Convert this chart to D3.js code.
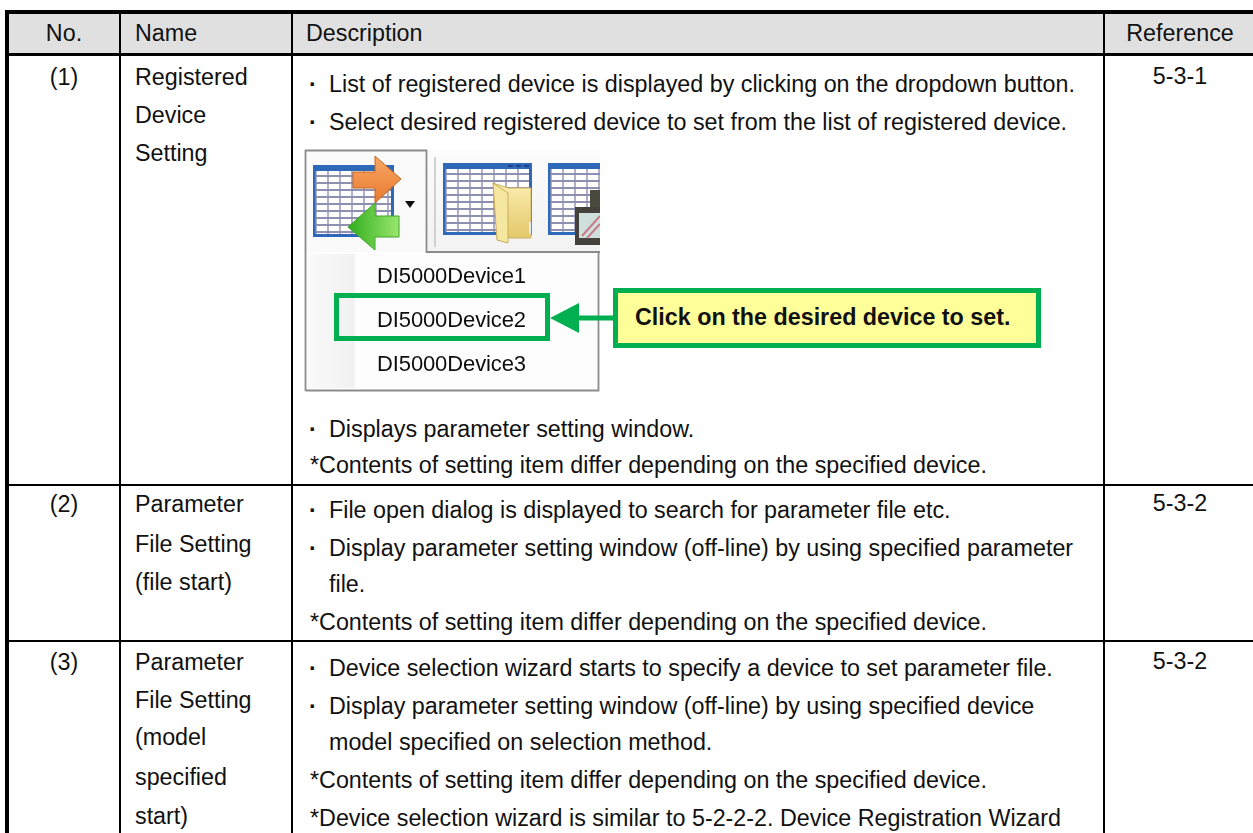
<!DOCTYPE html>
<html>
<head>
<meta charset="utf-8">
<script src="https://cdn.jsdelivr.net/npm/d3@7"></script>
<style>
    html, body { margin: 0; padding: 0; background: #fff; overflow: hidden; }
    svg { display: block; }
    text { font-family: "Liberation Sans", Arial, sans-serif; fill: #111; }
</style>
</head>
<body>
<script>
// table content
var columns = ["No.", "Name", "Description", "Reference"];
var numbers = ["(1)", "(2)", "(3)"];
var references = ["5-3-1", "5-3-2", "5-3-2"];
var names = [
    ["Registered", "Device", "Setting"],
    ["Parameter", "File Setting", "(file start)"],
    ["Parameter", "File Setting", "(model", "specified", "start)"]
];
var descTop = [
    "List of registered device is displayed by clicking on the dropdown button.",
    "Select desired registered device to set from the list of registered device."
];
var descBottom = [
    { bullet: true, text: "Displays parameter setting window." },
    { bullet: false, text: "*Contents of setting item differ depending on the specified device." }
];
var descFile = [
    { bullet: true, text: "File open dialog is displayed to search for parameter file etc." },
    { bullet: true, text: "Display parameter setting window (off-line) by using specified parameter" },
    { bullet: false, indent: true, text: "file." },
    { bullet: false, text: "*Contents of setting item differ depending on the specified device." }
];
var descModel = [
    { bullet: true, text: "Device selection wizard starts to specify a device to set parameter file." },
    { bullet: true, text: "Display parameter setting window (off-line) by using specified device" },
    { bullet: false, indent: true, text: "model specified on selection method." },
    { bullet: false, text: "*Contents of setting item differ depending on the specified device." },
    { bullet: false, text: "*Device selection wizard is similar to 5-2-2-2. Device Registration Wizard" }
];
var menuItems = ["DI5000Device1", "DI5000Device2", "DI5000Device3"];
var calloutText = "Click on the desired device to set.";

var width = 1253;
var height = 833;
var fontSize = 23.3;

var svg = d3.select("body").append("svg")
    .attr("width", width)
    .attr("height", height);

var defs = svg.append("defs");
defs.append("filter").attr("id", "soft")
    .append("feGaussianBlur").attr("stdDeviation", 0.7);
defs.append("filter").attr("id", "softer")
    .append("feGaussianBlur").attr("stdDeviation", 0.45);
defs.append("clipPath").attr("id", "shot")
    .append("rect").attr("x", 304).attr("y", 149).attr("width", 296).attr("height", 243);

function grad(id, stops, vertical) {
    var g = defs.append("linearGradient").attr("id", id)
        .attr("x1", 0).attr("y1", 0)
        .attr("x2", vertical ? 0 : 1).attr("y2", vertical ? 1 : 0);
    stops.forEach(function (s, i) {
        g.append("stop").attr("offset", i / (stops.length - 1)).attr("stop-color", s);
    });
}
grad("orange", ["#f9a866", "#e8792e"], true);
grad("green", ["#2fae1c", "#9be66e"], false);
grad("gutter", ["#fafafa", "#f1f1f1"], false);
grad("bar", ["#fcfcfc", "#f2f2f2"], true);
grad("folder", ["#fbeeb0", "#e4c86a"], true);

// column left edges / row lines
var colX = d3.scaleOrdinal().domain(columns).range([6.5, 120, 291.5, 1104]);
var rowY = d3.scaleOrdinal().domain(numbers).range([54, 485, 641]);
var nameX = colX("Name") + 15;
var descX = colX("Description") + 14.5;

// header band
svg.append("rect")
    .attr("x", colX("No."))
    .attr("y", 12)
    .attr("width", width - colX("No."))
    .attr("height", 41)
    .attr("fill", "#e0e0e0");

// grid lines
var lines = svg.append("g").attr("stroke", "#000").attr("shape-rendering", "crispEdges");
lines.append("line").attr("x1", 5).attr("x2", width).attr("y1", 12).attr("y2", 12).attr("stroke-width", 4);
lines.append("line").attr("x1", 5).attr("x2", width).attr("y1", 54).attr("y2", 54).attr("stroke-width", 3);
lines.selectAll(".row").data(numbers.slice(1)).enter().append("line")
    .attr("class", "row")
    .attr("x1", 5).attr("x2", width)
    .attr("y1", function (d) { return rowY(d); })
    .attr("y2", function (d) { return rowY(d); })
    .attr("stroke-width", 2);
lines.selectAll(".col").data(columns.slice(1)).enter().append("line")
    .attr("class", "col")
    .attr("x1", function (d) { return colX(d); })
    .attr("x2", function (d) { return colX(d); })
    .attr("y1", 12).attr("y2", height)
    .attr("stroke-width", 2);
lines.append("line").attr("x1", colX("No.")).attr("x2", colX("No."))
    .attr("y1", 10).attr("y2", height).attr("stroke-width", 4);

function label(x, y, str, anchor) {
    return svg.append("text")
        .attr("x", x).attr("y", y)
        .attr("font-size", fontSize)
        .attr("text-anchor", anchor || "start")
        .text(str);
}

// header row
label(64, 41, columns[0], "middle");
label(nameX, 41, columns[1]);
label(descX, 41, columns[2]);
label(1180, 41, columns[3], "middle");

// no. and reference columns
var cellBase = d3.scaleOrdinal().domain(numbers).range([85, 512, 670]);
numbers.forEach(function (n, i) {
    label(64, cellBase(n), n, "middle");
    label(1180, cellBase(n) - 1, references[i], "middle");
});

// name column
var nameBase = [
    [85, 123, 161],
    [512, 552, 590],
    [670, 708, 745, 785, 824]
];
names.forEach(function (rows, i) {
    rows.forEach(function (str, j) { label(nameX, nameBase[i][j], str); });
});

// description column
function descLine(d, y) {
    if (d.bullet) {
        label(descX + 3, y, "\u00b7").attr("font-weight", "bold");
    }
    label(d.bullet || d.indent ? descX + 23 : descX + 4, y, d.text);
}
descTop.forEach(function (str, i) {
    descLine({ bullet: true, text: str }, [92, 130][i]);
});
descBottom.forEach(function (d, i) { descLine(d, [437, 473][i]); });
descFile.forEach(function (d, i) { descLine(d, [518, 556, 592, 630][i]); });
descModel.forEach(function (d, i) { descLine(d, [676, 714, 750, 788, 826][i]); });

// software screenshot
var shot = svg.append("g").attr("clip-path", "url(#shot)").attr("filter", "url(#soft)");

shot.append("rect").attr("x", 305).attr("y", 150).attr("width", 295).attr("height", 102).attr("fill", "url(#bar)");
shot.append("rect").attr("x", 306).attr("y", 151).attr("width", 120).attr("height", 102).attr("fill", "#fafafa");
shot.append("rect").attr("x", 306).attr("y", 252).attr("width", 292).attr("height", 138).attr("fill", "#fdfdfd");
shot.append("rect").attr("x", 307).attr("y", 254).attr("width", 48).attr("height", 134).attr("fill", "url(#gutter)");
shot.append("path")
    .attr("d", "M305.5,391 V150.5 H426.5 V252 H598.5 V390.5 H305.5 M426.5,252 H600")
    .attr("fill", "none").attr("stroke", "#8c8c8c").attr("stroke-width", 1.8);
shot.append("line").attr("x1", 435).attr("x2", 435).attr("y1", 157).attr("y2", 247)
    .attr("stroke", "#c4c4c4").attr("stroke-width", 1.5);

function gridIcon(x, y, w, h) {
    var g = shot.append("g");
    g.append("rect").attr("x", x).attr("y", y).attr("width", w).attr("height", h).attr("fill", "#2d68b8");
    g.append("rect").attr("x", x + 3).attr("y", y + 6).attr("width", w - 6).attr("height", h - 9).attr("fill", "#ffffff");
    d3.range(y + 11, y + h - 3, 7).forEach(function (yy) {
        g.append("line").attr("x1", x + 3).attr("x2", x + w - 3).attr("y1", yy).attr("y2", yy)
            .attr("stroke", "#8f8fb0").attr("stroke-width", 1.8);
    });
    d3.range(x + 3, x + w - 3, 12).forEach(function (xx) {
        g.append("line").attr("x1", xx).attr("x2", xx).attr("y1", y + 6).attr("y2", y + h - 3)
            .attr("stroke", "#8f8fb0").attr("stroke-width", 1.4);
    });
}
gridIcon(313, 165, 81, 72);
gridIcon(443, 163, 89, 72);
gridIcon(548, 163, 70, 72);

// dots on the title bar of the second icon
shot.selectAll(".dot").data(d3.range(3)).enter().append("rect")
    .attr("class", "dot")
    .attr("x", function (d) { return 508 + d * 8; })
    .attr("y", 165).attr("width", 5).attr("height", 2).attr("fill", "#1c3f8a");

// orange and green arrows
shot.append("path")
    .attr("d", "M353,172 H375 V156 L401,179 L375,203 V188 H353 Z")
    .attr("fill", "url(#orange)").attr("stroke", "#c9651f").attr("stroke-width", 1);
shot.append("path")
    .attr("d", "M348,227 L375,203 V216 H399 V237 H375 V250 Z")
    .attr("fill", "url(#green)").attr("stroke", "#3fa52b").attr("stroke-width", 1);
shot.append("path").attr("d", "M405,201 H415 L410,208 Z").attr("fill", "#111");

// folder
shot.append("path")
    .attr("d", "M493,183 L508,188 H531 V238 H507 Z")
    .attr("fill", "url(#folder)").attr("stroke", "#cdb266").attr("stroke-width", 1);
shot.append("path")
    .attr("d", "M493,183 L508,193 V243 L497,240 Z")
    .attr("fill", "#f6e7a0").attr("stroke", "#c9ad5e").attr("stroke-width", 1);
shot.append("rect").attr("x", 529).attr("y", 222).attr("width", 2).attr("height", 12).attr("fill", "#dfeaf5");

// third icon device
shot.append("rect").attr("x", 590).attr("y", 190).attr("width", 12).attr("height", 17).attr("fill", "#4a4a3e");
shot.append("rect").attr("x", 575).attr("y", 207).attr("width", 30).attr("height", 38).attr("fill", "#45423c");
shot.append("rect").attr("x", 579).attr("y", 213).attr("width", 24).attr("height", 25).attr("fill", "#cfe0dc");
shot.append("path").attr("d", "M582,236 L600,216 M587,238 L600,224").attr("stroke", "#c87a8a").attr("stroke-width", 2);

// menu entries
var menuBase = d3.scaleOrdinal().domain(menuItems).range([283, 327, 371]);
svg.append("g").attr("filter", "url(#softer)")
    .selectAll("text").data(menuItems).enter().append("text")
    .attr("x", 377)
    .attr("y", function (d) { return menuBase(d); })
    .attr("font-size", 22)
    .attr("textLength", 149)
    .attr("lengthAdjust", "spacing")
    .text(function (d) { return d; });

// highlight + arrow + callout
var green = "#00b050";
svg.append("rect")
    .attr("x", 336.5).attr("y", 295.5).attr("width", 211).attr("height", 43)
    .attr("fill", "none").attr("stroke", green).attr("stroke-width", 5);
svg.append("line")
    .attr("x1", 575).attr("x2", 614).attr("y1", 318).attr("y2", 318)
    .attr("stroke", green).attr("stroke-width", 5);
svg.append("path").attr("d", "M550,318 L579,303 V333 Z").attr("fill", green);
svg.append("rect")
    .attr("x", 615.5).attr("y", 290.5).attr("width", 423).attr("height", 55)
    .attr("fill", "#ffff99").attr("stroke", green).attr("stroke-width", 5);
svg.append("text")
    .attr("x", 635).attr("y", 325)
    .attr("font-size", fontSize)
    .attr("font-weight", "bold")
    .text(calloutText);
</script>
</body>
</html>
